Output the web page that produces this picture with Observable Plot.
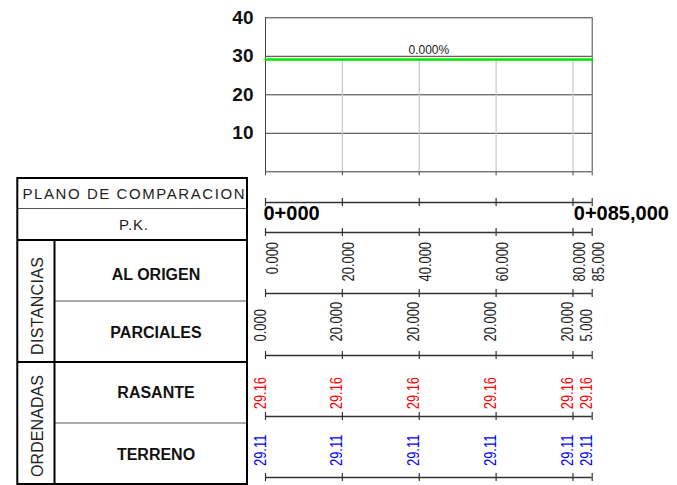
<!DOCTYPE html>
<html><head><meta charset="utf-8">
<script src="https://cdn.jsdelivr.net/npm/d3@7"></script>
<script src="https://cdn.jsdelivr.net/npm/@observablehq/plot@0.6"></script>
<style>
html,body{margin:0;padding:0;background:#fff;}
#wrap{position:relative;width:677px;height:485px;overflow:hidden;font-family:"Liberation Sans",Arial,sans-serif;}
#wrap > svg{position:absolute;left:0;}
</style></head><body><div id="wrap"></div>
<script>
// ---- data ----
const stations = [0, 20, 40, 60, 80, 85];
const pkLabels = ["0+000", "0+085,000"];
const distOrigen = ["0.000", "20.000", "40.000", "60.000", "80.000", "85.000"];
const distParcial = ["0.000", "20.000", "20.000", "20.000", "20.000", "5.000"];
const rasante = [29.16, 29.16, 29.16, 29.16, 29.16, 29.16];
const terreno = [29.11, 29.11, 29.11, 29.11, 29.11, 29.11];
const gradeLabel = "0.000%";
const yTicks = [10, 20, 30, 40];
const headerRows = ["PLANO DE COMPARACION", "P.K."];
const groupNames = ["DISTANCIAS", "ORDENADAS"];
const rowNames = ["AL ORIGEN", "PARCIALES", "RASANTE", "TERRENO"];

const W = 677, ML = 265, MR = 85.3;
const FONT = "Liberation Sans, Arial, sans-serif";
const xDom = d3.extent(stations);
const wrap = document.getElementById("wrap");
const baseStyle = {background: "transparent", overflow: "visible", fontFamily: FONT};

const rows = stations.map((s, i) => ({s, orig: distOrigen[i], par: distParcial[i], ras: rasante[i], ter: terreno[i]}));

function place(el, top) { el.style.top = top + "px"; el.style.left = "0px"; wrap.appendChild(el); }

// ---- profile chart ----
const profile = Plot.plot({
  width: W, height: 180, marginTop: 17.3, marginBottom: 8.7, marginLeft: ML, marginRight: MR,
  x: {domain: xDom}, y: {domain: [0, 40]},
  style: baseStyle,
  marks: [
    Plot.ruleY([0, ...yTicks], {stroke: "#3a3a3a", strokeWidth: 1}),
    Plot.ruleX(rows.slice(1, -1), {x: "s", y1: 0, y2: "ras", stroke: "#c8c8c8", strokeWidth: 1.2}),
    Plot.ruleX(xDom, {y1: 0, y2: 40, stroke: "#444", strokeWidth: 1}),
    Plot.line(rows, {x: "s", y: "ter", stroke: "#555", strokeWidth: 1}),
    Plot.line(rows, {x: "s", y: "ras", stroke: "#00ee00", strokeWidth: 2.4}),
    Plot.text([gradeLabel], {x: d3.mean(xDom), y: d3.mean(rasante), text: d => d, lineAnchor: "bottom", dy: -6, fontSize: 12, fill: "#222"}),
    Plot.axisY({ticks: yTicks, tickSize: 0, tickPadding: 12, fontSize: 19, fontWeight: "bold", label: null, fill: "#111"}),
    Plot.axisX({ticks: stations, tickSize: 4, tickFormat: () => "", label: null, stroke: "#444"})
  ]
});
place(profile, 0);

// ---- rulers ----
function ruler(cy) {
  const p = Plot.plot({
    width: W, height: 8, marginTop: 0, marginBottom: 0, marginLeft: ML, marginRight: MR,
    x: {domain: xDom, axis: null}, y: {domain: [-1, 1], axis: null},
    style: baseStyle,
    marks: [
      Plot.ruleY([0], {stroke: "#333", strokeWidth: 1.3}),
      Plot.tickX(stations, {stroke: "#333", strokeWidth: 1.2})
    ]
  });
  place(p, cy - 4);
}
[202, 232, 293.3, 354.7, 416, 477.3].forEach(ruler);

// ---- label bands ----
function band(top, height, mt, mb, marks, narrow) {
  const p = Plot.plot({
    width: W, height, marginTop: mt, marginBottom: mb, marginLeft: ML, marginRight: MR,
    x: {domain: xDom, axis: null},
    style: baseStyle,
    marks
  });
  if (narrow) {
    // condensed look of the CAD font: squeeze glyphs along the text direction
    d3.select(p).selectAll("text").each(function () {
      const t = this.getAttribute("transform") || "";
      this.setAttribute("transform", t + " scale(0.76,1)");
    });
  }
  place(p, top);
}
band(202, 30, 3, 0, [
  Plot.text([pkLabels[0]], {x: xDom[0], text: d => d, frameAnchor: "top", lineAnchor: "top", textAnchor: "start", dx: -2, fontSize: 20, fontWeight: "bold", fill: "#000"}),
  Plot.text([pkLabels[1]], {x: xDom[1], text: d => d, frameAnchor: "top", lineAnchor: "top", textAnchor: "start", dx: -18.4, fontSize: 20, fontWeight: "bold", fill: "#000"})
]);
const rot = {rotate: -90, fontSize: 17};
band(232, 61, 9.5, 0, [
  Plot.text(rows, {x: "s", text: "orig", frameAnchor: "top", textAnchor: "end", fill: "#222", ...rot})
], true);
band(293.3, 61.4, 0, 13.5, [
  Plot.text(rows, {x: "s", text: "par", frameAnchor: "bottom", textAnchor: "start", fill: "#222", ...rot})
], true);
band(354.7, 61.3, 0, 7.5, [
  Plot.text(rows, {x: "s", text: d => d.ras.toFixed(2), frameAnchor: "bottom", textAnchor: "start", fill: "#ff0000", ...rot})
], true);
band(416, 61.3, 0, 11.8, [
  Plot.text(rows, {x: "s", text: d => d.ter.toFixed(2), frameAnchor: "bottom", textAnchor: "start", fill: "#0000ff", ...rot})
], true);

// ---- left table ----
const L = 17.3, R = 247, IX = 54.5;
const svg = d3.create("svg").attr("width", W).attr("height", 485).style("top", "0px").style("font-family", FONT);
const line = (x1, y1, x2, y2, w, c) => svg.append("line").attr("x1", x1).attr("y1", y1).attr("x2", x2).attr("y2", y2).attr("stroke", c).attr("stroke-width", w);
line(L, 208.5, R, 208.5, 1, "#555");
line(IX, 301, R, 301, 1, "#555");
line(IX, 423, R, 423, 1, "#555");
line(L, 240, R, 240, 2, "#000");
line(L, 362, R, 362, 2, "#000");
line(IX, 240, IX, 485, 2, "#000");
svg.append("rect").attr("x", L).attr("y", 178).attr("width", R - L).attr("height", 306).attr("fill", "none").attr("stroke", "#000").attr("stroke-width", 2);
const hy = [199, 230], hlen = [222, 29];
headerRows.forEach((t, i) => svg.append("text").attr("x", 133.5).attr("y", hy[i]).attr("text-anchor", "middle")
  .attr("font-size", 15).attr("textLength", hlen[i]).attr("lengthAdjust", "spacing").attr("fill", "#222").text(t));
const gy = [306, 426], glen = [98, 102];
groupNames.forEach((t, i) => svg.append("text").attr("transform", `translate(43,${gy[i]}) rotate(-90)`).attr("text-anchor", "middle")
  .attr("font-size", 16).attr("textLength", glen[i]).attr("lengthAdjust", "spacing").attr("fill", "#222").text(t));
const ry = [280, 337.5, 398.3, 460];
rowNames.forEach((t, i) => svg.append("text").attr("x", 156).attr("y", ry[i]).attr("text-anchor", "middle")
  .attr("font-size", 16).attr("font-weight", "bold").attr("fill", "#111").text(t));
wrap.appendChild(svg.node());
</script>
</body></html>
